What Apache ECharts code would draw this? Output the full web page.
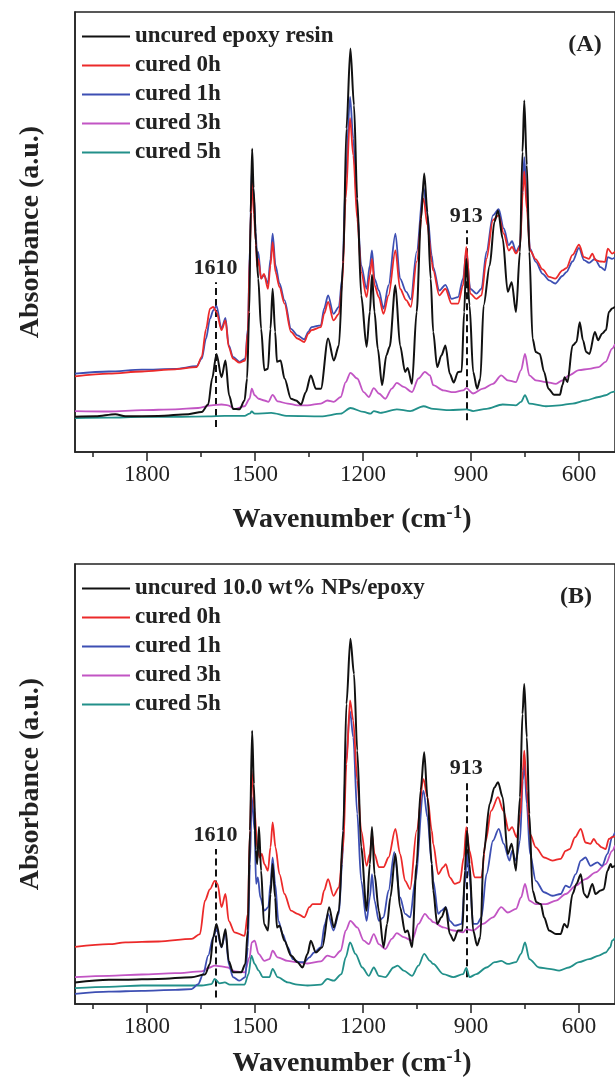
<!DOCTYPE html>
<html>
<head>
<meta charset="utf-8">
<script src="https://cdn.jsdelivr.net/npm/echarts@6/dist/echarts.min.js"></script>
<style>
html,body{margin:0;padding:0;background:#fff;}
#c{width:615px;height:1080px;}
</style>
</head>
<body>
<div id="c"></div>
<script>
// ---------- data ----------
const xTickLabels = [600, 900, 1200, 1500, 1800];
const xMinorTicks = [750, 1050, 1350, 1650, 1950];
const namesA = ['uncured epoxy resin', 'cured 0h', 'cured 1h', 'cured 3h', 'cured 5h'];
const namesB = ['uncured 10.0 wt% NPs/epoxy', 'cured 0h', 'cured 1h', 'cured 3h', 'cured 5h'];
const peakMarks = [1610, 913];

const A_uncured = [[2000,8.0],[1943,8.1],[1888,8.6],[1860,8.1],[1768,8.2],[1685,8.6],[1648,9.1],[1630,10.8],[1619,16.7],[1607,22.3],[1593,17.0],[1582,20.8],[1572,12.9],[1561,9.8],[1543,9.7],[1529,11.7],[1522,16.7],[1516,31.8],[1512,54.5],[1508,68.9],[1504,60],[1497,47],[1491,39.4],[1483,28.0],[1474,18.6],[1464,18.9],[1457,28.0],[1451,37.1],[1444,27.3],[1439,20.5],[1429,20.8],[1418,16.7],[1400,12.1],[1386,11.7],[1372,10.8],[1359,13.6],[1345,17.4],[1331,14.4],[1317,14.4],[1297,25.8],[1281,20.8],[1267,24.2],[1255,43.2],[1246,73.5],[1235,91.7],[1225,78.8],[1216,57.6],[1205,35.6],[1190,23.9],[1181,31.8],[1175,40.2],[1168,31.8],[1159,23.5],[1147,15.2],[1135,22.0],[1126,23.9],[1110,37.9],[1097,24.2],[1083,18.2],[1076,19.1],[1064,15.5],[1051,31.8],[1039,53.0],[1030,63.3],[1021,54.5],[1012,39.4],[1005,27.3],[994,19.3],[982,22.0],[971,24.2],[959,17.8],[948,15.8],[936,18.2],[926,18.3],[919,31.8],[913,43.9],[904,33.3],[894,18.2],[883,14.4],[874,16.7],[865,33.3],[848,42.4],[835,52.3],[825,54.9],[812,48.5],[798,36.4],[787,38.6],[775,31.8],[764,45.5],[757,68.2],[752,79.9],[745,65.2],[738,45.5],[729,25.8],[720,22.7],[709,22.3],[697,18.2],[685,14.4],[669,13.0],[653,13.0],[646,15.2],[640,17.0],[632,15.9],[618,24.2],[607,25.0],[598,29.5],[589,25.4],[580,22.7],[571,22.3],[556,27.3],[547,25.4],[536,26.9],[525,27.7],[517,31.8],[508,32.6],[500,33.0]];
const A_0h = [[2000,17.2],[1906,17.8],[1814,18.3],[1722,18.8],[1662,19.3],[1648,21.6],[1636,28.0],[1625,32.6],[1616,33.0],[1607,31.8],[1593,27.7],[1582,29.9],[1573,23.9],[1561,21.2],[1543,20.3],[1527,20.8],[1520,27.3],[1514,45.5],[1509,62.1],[1503,54],[1498,48],[1494,42],[1491,43.9],[1483,39.4],[1475,40.5],[1464,37.1],[1457,42.4],[1451,47.7],[1443,40.9],[1432,37.5],[1418,33.7],[1400,27.3],[1382,25.8],[1363,25.0],[1352,26.9],[1343,27.7],[1317,28.4],[1308,31.4],[1297,34.1],[1282,29.9],[1267,31.4],[1258,37.9],[1248,57.6],[1236,75.9],[1227,67.4],[1216,53.0],[1205,40.9],[1190,35.2],[1181,40.2],[1175,43.9],[1168,37.9],[1156,35.2],[1143,31.4],[1129,35.6],[1110,45.8],[1097,37.1],[1080,34.5],[1067,33.0],[1051,43.2],[1032,57.6],[1021,51.5],[1009,43.2],[1005,41.3],[988,35.6],[971,37.1],[954,33.7],[936,33.7],[922,37.9],[913,46.6],[902,36.0],[885,34.8],[871,35.6],[857,43.9],[839,52.7],[823,53.8],[809,49.6],[795,45.8],[786,46.6],[775,45.1],[764,46.6],[756,59.1],[752,63.8],[745,55.3],[736,45.8],[720,43.8],[701,41.5],[683,39.8],[666,39.4],[646,41.3],[635,41.8],[618,44.8],[600,47.1],[586,44.3],[572,43.9],[563,45.1],[554,43.6],[540,43.3],[528,43.2],[520,46.2],[508,45.1],[500,45.5]];
const A_1h = [[2000,17.8],[1906,18.3],[1814,18.7],[1722,18.9],[1662,19.5],[1648,21.2],[1636,25.8],[1625,30.3],[1616,32.2],[1607,33.2],[1593,28.0],[1582,30.5],[1573,24.2],[1561,21.6],[1543,20.5],[1527,21.2],[1520,28.0],[1514,47.0],[1509,64.4],[1503,58],[1498,50],[1494,44],[1491,45.5],[1483,39.4],[1475,40.2],[1464,38.3],[1457,43.9],[1451,49.6],[1443,42.4],[1432,38.3],[1418,34.5],[1400,28.0],[1382,26.5],[1363,25.6],[1352,27.3],[1343,28.4],[1317,28.8],[1308,32.6],[1297,35.6],[1282,31.4],[1267,33.0],[1258,39.4],[1248,62.1],[1236,80.7],[1227,71.2],[1216,54.5],[1205,42.4],[1190,37.1],[1181,42.4],[1175,45.8],[1168,39.4],[1156,36.7],[1143,32.6],[1129,37.9],[1110,49.6],[1097,39.4],[1080,36.4],[1067,34.7],[1051,45.5],[1032,60.2],[1021,53.8],[1009,44.7],[1005,42.0],[988,36.7],[971,38.0],[954,34.8],[936,35.2],[922,39.4],[913,45.6],[902,37.1],[885,36.0],[871,37.1],[857,45.5],[839,53.8],[823,55.2],[809,50.8],[795,47.0],[786,47.9],[775,45.5],[764,47.0],[756,60.6],[752,67.0],[745,57.6],[736,46.2],[720,43.2],[701,40.5],[683,39.0],[666,38.3],[646,40.0],[635,40.9],[618,43.3],[600,46.4],[586,43.6],[572,43.0],[556,43.9],[540,42.0],[528,41.3],[520,44.3],[508,43.9],[500,44.2]];
const A_3h = [[2000,9.3],[1906,9.2],[1814,9.5],[1722,9.7],[1658,10.0],[1621,10.6],[1593,10.8],[1575,10.6],[1556,9.8],[1529,10.4],[1515,12.1],[1509,14.4],[1501,12.9],[1490,12.1],[1474,11.7],[1463,11.4],[1451,13.0],[1437,11.5],[1409,11.0],[1382,10.6],[1354,10.6],[1317,11.0],[1299,11.7],[1281,11.4],[1262,12.5],[1248,15.9],[1235,18.0],[1216,16.7],[1198,13.6],[1184,12.5],[1170,14.5],[1156,13.3],[1138,12.1],[1120,14.4],[1106,15.7],[1087,14.8],[1064,13.6],[1046,16.7],[1028,18.2],[1014,17.4],[1005,15.2],[977,14.0],[949,13.6],[922,14.0],[913,14.5],[894,13.3],[867,14.4],[839,15.5],[816,17.4],[798,16.3],[775,15.9],[761,18.6],[750,22.3],[738,17.4],[720,16.3],[692,15.9],[664,15.5],[646,16.3],[628,17.4],[600,18.6],[572,18.9],[545,19.3],[526,20.5],[508,23.5],[500,24.5]];
const A_5h = [[2000,7.7],[1906,7.8],[1814,8.0],[1722,8.0],[1630,8.1],[1584,8.2],[1529,8.2],[1515,8.7],[1509,9.2],[1501,8.7],[1455,8.9],[1409,8.2],[1317,8.1],[1262,8.7],[1235,10.0],[1198,9.1],[1179,8.7],[1170,9.3],[1152,8.9],[1106,9.7],[1069,9.3],[1032,10.4],[1005,9.8],[959,9.5],[913,9.7],[894,9.3],[857,9.8],[812,10.8],[775,10.6],[761,11.4],[750,12.9],[738,11.0],[692,10.4],[655,10.6],[618,11.0],[582,11.7],[545,12.5],[526,12.9],[508,13.6],[500,13.8]];

const B_uncured = [[2000,4.9],[1906,5.5],[1860,5.5],[1768,5.7],[1676,6.1],[1639,6.7],[1625,9.1],[1616,15.2],[1607,18.2],[1593,12.9],[1582,17.0],[1573,9.8],[1561,7.2],[1538,7.2],[1527,9.1],[1520,16.7],[1514,39.4],[1508,62.1],[1503,50],[1498,35],[1494,31.8],[1489,40.2],[1483,30.3],[1475,18.2],[1464,16.7],[1457,25.0],[1451,31.8],[1444,24.2],[1439,17.4],[1432,17.8],[1418,14.4],[1400,11.0],[1382,9.5],[1368,8.3],[1354,11.4],[1345,14.4],[1331,11.7],[1313,12.9],[1294,22.0],[1281,17.4],[1267,21.2],[1255,39.4],[1246,68.2],[1235,83.0],[1225,75.0],[1216,57.6],[1205,35.6],[1190,21.2],[1181,31.8],[1175,40.2],[1168,29.5],[1156,21.2],[1143,12.9],[1133,18.2],[1124,24.2],[1110,34.1],[1097,22.0],[1083,16.3],[1076,16.7],[1064,12.9],[1051,31.8],[1040,48.5],[1030,57.2],[1021,47.0],[1009,31.8],[1005,25.8],[994,18.2],[982,19.7],[970,22.0],[959,15.9],[948,14.4],[936,16.7],[924,16.7],[917,30.3],[911,39.4],[904,31.8],[894,16.7],[883,13.3],[874,15.2],[865,34.1],[848,45.5],[835,49.2],[825,50.4],[812,47.0],[798,34.1],[787,36.4],[775,30.3],[764,47.0],[757,65.9],[752,72.7],[745,60.6],[738,43.2],[729,25.8],[718,23.1],[706,22.7],[697,19.7],[683,16.7],[664,15.9],[651,15.9],[641,18.2],[632,17.4],[618,25.0],[607,27.3],[595,29.5],[586,25.0],[577,24.2],[563,27.3],[554,25.0],[540,25.8],[531,26.1],[521,30.3],[512,31.8],[508,31.1],[500,31.5]];
const B_0h = [[2000,13.0],[1906,13.6],[1860,14.0],[1768,14.2],[1676,14.8],[1653,15.9],[1639,23.5],[1625,26.1],[1612,28.0],[1604,27.3],[1593,22.0],[1582,25.0],[1573,18.9],[1557,16.3],[1529,15.5],[1520,20.5],[1514,39.4],[1509,53.0],[1501,43.9],[1494,35.6],[1487,33.3],[1481,34.1],[1474,31.8],[1464,30.3],[1457,35.6],[1451,41.3],[1443,35.6],[1432,29.5],[1418,25.0],[1400,21.2],[1382,20.5],[1363,19.7],[1349,22.0],[1340,22.7],[1317,22.7],[1308,25.8],[1297,28.4],[1282,24.6],[1267,26.5],[1255,35.6],[1246,54.5],[1236,69.0],[1227,64.4],[1216,50.8],[1205,39.4],[1190,31.4],[1181,34.1],[1175,38.5],[1168,34.1],[1156,31.1],[1143,31.1],[1129,33.3],[1110,39.8],[1097,34.1],[1083,28.0],[1069,26.1],[1051,39.4],[1032,51.1],[1021,47.0],[1009,39.4],[1005,36.4],[991,29.5],[977,31.1],[970,31.8],[959,28.8],[945,27.3],[931,27.7],[920,33.3],[913,40.2],[904,34.8],[890,28.8],[871,28.8],[859,37.1],[844,43.9],[825,47.0],[810,43.9],[795,39.4],[786,40.2],[773,37.9],[763,43.2],[756,53.0],[752,57.6],[745,48.5],[736,38.6],[720,35.6],[697,33.3],[674,32.6],[651,33.0],[637,34.8],[626,35.2],[611,37.9],[595,39.8],[582,36.7],[568,36.4],[559,37.5],[549,36.4],[537,35.6],[526,35.2],[517,37.5],[508,37.9],[500,38.2]];
const B_1h = [[2000,2.3],[1906,2.8],[1814,3.0],[1722,3.2],[1676,3.4],[1658,4.5],[1644,6.8],[1630,11.0],[1616,15.2],[1607,17.0],[1593,12.9],[1582,16.3],[1573,9.1],[1561,6.1],[1543,5.3],[1527,6.1],[1520,12.9],[1514,31.8],[1509,47.0],[1501,39.4],[1497,27.3],[1492,28.8],[1485,24.2],[1474,21.2],[1463,22.0],[1457,27.3],[1451,33.3],[1444,27.3],[1435,18.9],[1423,15.9],[1409,12.9],[1395,10.2],[1377,9.5],[1363,9.5],[1349,10.6],[1336,11.7],[1317,12.9],[1306,18.2],[1297,20.5],[1282,16.7],[1267,20.5],[1258,31.8],[1248,54.5],[1236,66.5],[1227,60.6],[1216,43.2],[1205,28.0],[1190,18.9],[1181,24.2],[1175,29.5],[1168,23.5],[1156,18.9],[1143,19.7],[1129,25.8],[1113,34.5],[1097,24.2],[1083,20.5],[1069,19.7],[1055,28.0],[1032,48.5],[1021,42.4],[1009,31.8],[1005,28.0],[991,20.5],[982,21.2],[970,22.0],[959,18.9],[945,17.8],[926,18.2],[917,27.3],[911,34.1],[904,28.8],[894,18.2],[883,18.2],[871,19.7],[857,29.5],[839,37.1],[823,39.8],[809,36.4],[793,32.6],[786,34.8],[775,32.6],[764,37.1],[756,50.8],[752,54.9],[745,45.5],[736,34.1],[720,28.0],[697,25.4],[674,24.6],[651,25.0],[637,26.9],[626,26.5],[609,29.5],[595,32.6],[582,33.3],[568,31.4],[549,32.2],[536,31.4],[521,34.1],[508,37.9],[500,39.0]];
const B_3h = [[2000,6.1],[1906,6.4],[1814,6.7],[1722,7.0],[1648,7.4],[1630,8.2],[1612,8.7],[1589,8.5],[1575,8.3],[1556,7.4],[1529,7.2],[1515,10.6],[1509,14.0],[1501,14.4],[1490,11.4],[1474,9.8],[1460,10.2],[1451,12.1],[1437,10.6],[1409,9.8],[1382,9.5],[1354,9.2],[1317,9.7],[1299,11.0],[1281,10.6],[1262,12.1],[1248,16.7],[1235,18.9],[1216,17.4],[1198,14.4],[1184,13.6],[1170,15.9],[1156,13.6],[1138,12.5],[1120,14.8],[1106,16.1],[1087,15.2],[1064,14.4],[1046,18.2],[1028,20.5],[1014,19.3],[1005,18.6],[977,17.4],[949,16.7],[922,16.3],[913,17.0],[894,16.7],[867,18.2],[839,19.7],[816,22.0],[798,20.8],[775,21.6],[761,24.2],[750,27.3],[738,23.5],[720,22.7],[692,22.7],[664,23.5],[637,25.0],[609,26.9],[582,28.4],[554,29.9],[526,31.8],[508,34.8],[500,36.0]];
const B_5h = [[2000,3.6],[1906,3.9],[1814,4.2],[1722,4.2],[1648,4.2],[1621,4.5],[1612,5.7],[1598,4.7],[1584,4.9],[1570,4.4],[1529,4.4],[1518,6.8],[1510,11.0],[1501,9.1],[1490,7.6],[1478,6.1],[1460,6.1],[1451,8.0],[1437,6.1],[1409,4.9],[1382,4.4],[1354,4.2],[1317,4.4],[1299,5.7],[1281,5.3],[1260,6.8],[1248,10.6],[1236,14.0],[1221,11.4],[1202,8.3],[1184,6.4],[1170,8.3],[1156,6.4],[1138,6.1],[1115,8.3],[1104,8.7],[1087,7.6],[1064,6.4],[1046,8.7],[1030,11.4],[1014,9.8],[1005,9.1],[977,6.8],[949,6.1],[922,6.8],[913,8.2],[904,6.1],[885,6.8],[857,8.3],[834,9.5],[816,9.8],[798,9.1],[775,9.5],[761,11.4],[750,14.0],[738,10.2],[711,8.3],[683,8.0],[655,7.6],[628,8.3],[600,9.5],[572,10.2],[545,11.0],[526,11.7],[513,12.9],[508,14.4],[500,15.0]];

// ---------- chart ----------
const FONT = '"Liberation Serif", "Times New Roman", serif';
const colors = ['#111111', '#ec2a2a', '#3d4fb3', '#c255c4', '#22908a'];
const widths = [2, 1.8, 1.8, 1.8, 1.8];

function grid(top) { return { left: 75, top: top, width: 544, height: 440, show: true, borderColor: '#222', borderWidth: 1.5, containLabel: false }; }

function xAxes(gi) {
  const base = { type: 'value', gridIndex: gi, position: 'bottom', min: 500, max: 2000, inverse: true, splitLine: { show: false } };
  return [
    Object.assign({}, base, {
      axisLine: { show: true, lineStyle: { color: '#222', width: 1.5 } },
      axisTick: { show: true, inside: false, length: 9, lineStyle: { color: '#222', width: 1.5 }, customValues: xTickLabels },
      axisLabel: { show: true, customValues: xTickLabels, formatter: v => String(v), fontFamily: FONT, fontSize: 23, color: '#222', margin: 11 },
      name: '{t|Wavenumber (cm}{s|-1}{t|)}', nameLocation: 'middle', nameGap: gi === 0 ? 52 : 44,
      nameTextStyle: { padding: [0, 0, 0, 14], rich: {
        t: { fontFamily: FONT, fontSize: 28, fontWeight: 'bold', color: '#222' },
        s: { fontFamily: FONT, fontSize: 19, fontWeight: 'bold', color: '#222', verticalAlign: 'top', padding: [0, 0, 12, 0] } } }
    }),
    Object.assign({}, base, {
      axisLine: { show: false },
      axisTick: { show: true, inside: false, length: 5, lineStyle: { color: '#222', width: 1.5 }, customValues: xMinorTicks },
      axisLabel: { show: false }
    })
  ];
}

function yAxis(gi) {
  return { type: 'value', gridIndex: gi, min: 0, max: 100, splitLine: { show: false },
    axisLine: { show: true, lineStyle: { color: '#222', width: 1.5 } }, axisTick: { show: false }, axisLabel: { show: false },
    name: 'Absorbance (a.u.)', nameLocation: 'middle', nameRotate: 90, nameGap: 30,
    nameTextStyle: { fontFamily: FONT, fontSize: 28, fontWeight: 'bold', color: '#222' } };
}

function mk(ranges) {
  return { silent: true, symbol: 'none', animation: false,
    lineStyle: { color: '#111', type: [7, 4], width: 2 },
    label: { show: true, position: 'end', distance: 3, formatter: '{b}', fontFamily: FONT, fontSize: 22, fontWeight: 'bold', color: '#222' },
    data: ranges.map(r => [{ coord: [r[0], r[1]], name: String(r[0]) }, { coord: [r[0], r[2]] }]) };
}

function panelSeries(gi, names, datas, marks) {
  return datas.map((d, i) => ({
    name: names[i], type: 'line', xAxisIndex: gi * 2, yAxisIndex: gi, data: d,
    symbol: 'none', showSymbol: false, smooth: 0.3, smoothMonotone: 'x', animation: false,
    lineStyle: { color: colors[i], width: widths[i] }, itemStyle: { color: colors[i] },
    z: 10 - i,
    markLine: i === 0 ? mk(marks) : undefined
  }));
}

function legend(top, names) {
  return { left: 82, top: top, padding: 0, orient: 'vertical', icon: 'rect', itemWidth: 48, itemHeight: 2, itemGap: 6, data: names,
    textStyle: { fontFamily: FONT, fontSize: 23, fontWeight: 'bold', color: '#222', lineHeight: 22 } };
}

const chart = echarts.init(document.getElementById('c'), null, { renderer: 'canvas' });
chart.setOption({
  animation: false,
  backgroundColor: '#fff',
  grid: [grid(12), grid(564)],
  xAxis: [...xAxes(0), ...xAxes(1)].map((a, i) => Object.assign(a, { gridIndex: i < 2 ? 0 : 1 })),
  yAxis: [yAxis(0), yAxis(1)],
  legend: [legend(25, namesA), legend(577, namesB)],
  series: [
    ...panelSeries(0, namesA, [A_uncured, A_0h, A_1h, A_3h, A_5h], [[peakMarks[0], 5.7, 38.6], [peakMarks[1], 7.2, 50.4]]),
    ...panelSeries(1, namesB, [B_uncured, B_0h, B_1h, B_3h, B_5h], [[peakMarks[0], 1.5, 35.2], [peakMarks[1], 6.1, 50.4]])
  ],
  graphic: [
    { type: 'text', x: 585, y: 45, style: { text: '(A)', font: 'bold 24px ' + FONT, fill: '#222', align: 'center', verticalAlign: 'middle', textAlign: 'center', textVerticalAlign: 'middle' } },
    { type: 'text', x: 576, y: 597, style: { text: '(B)', font: 'bold 24px ' + FONT, fill: '#222', align: 'center', verticalAlign: 'middle', textAlign: 'center', textVerticalAlign: 'middle' } }
  ]
});
</script>
</body>
</html>
